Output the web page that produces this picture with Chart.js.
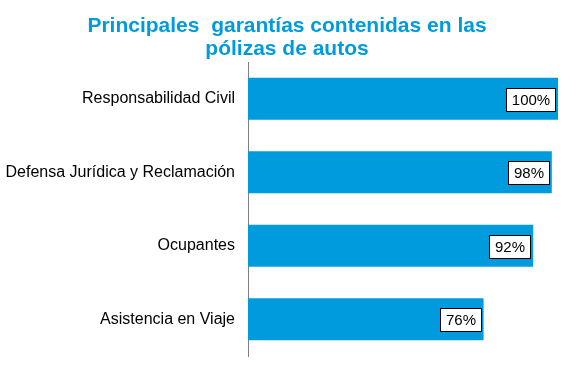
<!DOCTYPE html>
<html><head><meta charset="utf-8">
<script src="https://cdn.jsdelivr.net/npm/chart.js@4/dist/chart.umd.min.js"></script>
<style>html,body{margin:0;padding:0;background:#fff}#wrap{width:568px;height:379px}</style>
</head><body><div id="wrap"><canvas id="c" width="568" height="379"></canvas></div>
<script>
const categories = ['Responsabilidad Civil','Defensa Jurídica y Reclamación','Ocupantes','Asistencia en Viaje'];
const values = [100, 98, 92, 76];
const titleLines = ['Principales  garantías contenidas en las','pólizas de autos'];

const FONT = '"Liberation Sans", Arial, sans-serif';

const titlePlugin = {
  id: 'titlePlugin',
  afterDraw(chart) {
    const ctx = chart.ctx;
    ctx.save();
    ctx.font = 'bold 21px ' + FONT;
    ctx.fillStyle = '#009BDD';
    ctx.textAlign = 'center';
    ctx.textBaseline = 'alphabetic';
    ctx.fillText(titleLines[0], 287, 32);
    ctx.fillText(titleLines[1], 287, 55);
    ctx.restore();
  }
};

const boxLabels = {
  id: 'boxLabels',
  afterDatasetsDraw(chart) {
    const ctx = chart.ctx;
    const meta = chart.getDatasetMeta(0);
    ctx.save();
    ctx.font = '15px ' + FONT;
    ctx.textBaseline = 'middle';
    ctx.textAlign = 'left';
    meta.data.forEach((bar, i) => {
      const txt = values[i] + '%';
      const w = ctx.measureText(txt).width;
      const bw = Math.round(w + 11), bh = 23;
      const right = Math.round(bar.x) - 3;
      const left = right - bw;
      const top = Math.round(bar.y) - 11;
      ctx.fillStyle = '#fff';
      ctx.fillRect(left, top, bw, bh);
      ctx.strokeStyle = '#000';
      ctx.lineWidth = 1;
      ctx.strokeRect(left + 0.5, top + 0.5, bw, bh);
      ctx.fillStyle = '#000';
      ctx.fillText(txt, left + (bw - w) / 2 + 0.5, top + bh / 2 + 1);
    });
    ctx.restore();
  }
};

new Chart(document.getElementById('c'), {
  type: 'bar',
  data: { labels: categories, datasets: [{ data: values, backgroundColor: '#009BDD', borderWidth: 0,
    categoryPercentage: 1, barPercentage: 0.573 }] },
  options: {
    indexAxis: 'y', responsive: false, animation: false,
    layout: { padding: { left: 0, right: 10, top: 62, bottom: 23 } },
    plugins: { legend: { display: false }, tooltip: { enabled: false }, title: { display: false } },
    scales: {
      x: { display: false, min: 0, max: 100 },
      y: { grid: { display: false, drawTicks: false }, border: { display: true, color: '#808080', width: 1 },
        ticks: { color: '#000', padding: 13, font: { family: FONT, size: 16 } },
        afterFit(s) { s.width = 248; } }
    }
  },
  plugins: [boxLabels, titlePlugin]
});
</script></body></html>
